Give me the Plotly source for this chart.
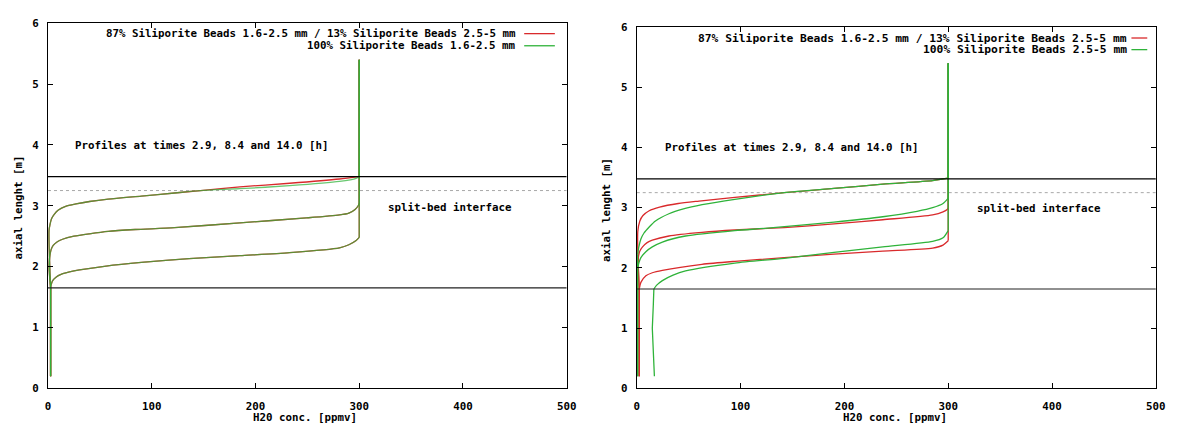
import plotly.graph_objects as go

# ---------------- data ----------------
X_TICKS = [0, 100, 200, 300, 400, 500]
Y_TICKS = [0, 1, 2, 3, 4, 5, 6]

# Left panel: 87/13 mix (red) vs 100% 1.6-2.5 mm (green); profiles at 2.9, 8.4, 14.0 h
L_MIX_T29_C = [2.5, 2.5, 3, 4.5, 8, 12, 25, 56, 90, 136, 185, 233, 281, 290, 297, 300, 300]
L_MIX_T29_Z = [0.20, 1.65, 1.70, 1.77, 1.83, 1.87, 1.93, 2.01, 2.07, 2.13, 2.18, 2.23, 2.31, 2.36, 2.43, 2.48, 5.40]
L_MIX_T84_C = [2.5, 2.5, 1, 1.5, 3, 5, 9, 14, 25, 40, 58, 84, 122, 185, 249, 281, 290, 296, 299, 300, 300]
L_MIX_T84_Z = [0.20, 1.65, 2.00, 2.14, 2.28, 2.35, 2.41, 2.45, 2.50, 2.54, 2.58, 2.61, 2.64, 2.72, 2.80, 2.85, 2.88, 2.94, 3.00, 3.04, 5.40]
L_MIX_T140_C = [2.5, 2.5, 1, 2, 3.5, 6, 10, 17, 27, 40, 58, 90, 122, 147, 185, 233, 281, 300, 300]
L_MIX_T140_Z = [0.20, 1.65, 2.59, 2.70, 2.79, 2.86, 2.93, 2.99, 3.03, 3.07, 3.11, 3.16, 3.21, 3.25, 3.31, 3.37, 3.44, 3.48, 5.40]

L_PURE_T29_C = [2.5, 2.5, 3, 4.5, 8, 12, 25, 56, 90, 136, 185, 233, 281, 290, 297, 300, 300]
L_PURE_T29_Z = [0.20, 1.65, 1.70, 1.77, 1.83, 1.87, 1.93, 2.01, 2.07, 2.13, 2.18, 2.23, 2.31, 2.36, 2.43, 2.48, 5.40]
L_PURE_T84_C = [2.5, 2.5, 1, 1.5, 3, 5, 9, 14, 25, 40, 58, 84, 122, 185, 249, 281, 290, 296, 299, 300, 300]
L_PURE_T84_Z = [0.20, 1.65, 2.00, 2.14, 2.28, 2.35, 2.41, 2.45, 2.50, 2.54, 2.58, 2.61, 2.64, 2.72, 2.80, 2.85, 2.88, 2.94, 3.00, 3.04, 5.40]
L_PURE_T140_C = [2.5, 2.5, 1, 2, 3.5, 6, 10, 17, 27, 40, 58, 90, 122, 147, 185, 233, 281, 297, 300, 300]
L_PURE_T140_Z = [0.20, 1.65, 2.59, 2.70, 2.79, 2.86, 2.93, 2.99, 3.03, 3.07, 3.11, 3.16, 3.21, 3.25, 3.28, 3.33, 3.40, 3.45, 3.48, 5.40]

# Right panel: 87/13 mix (red) vs 100% 2.5-5 mm (green)
R_MIX_T29_C = [2.4, 2.4, 4, 8.8, 15, 24.7, 62.8, 94.5, 142, 190, 237, 285, 295, 300, 300]
R_MIX_T29_Z = [0.20, 1.65, 1.76, 1.87, 1.92, 1.96, 2.06, 2.11, 2.17, 2.23, 2.28, 2.33, 2.38, 2.45, 5.40]
R_MIX_T84_C = [2.4, 2.4, 1.5, 3, 5.6, 10, 15, 31, 62.8, 94.5, 142, 190, 237, 285, 295, 299, 300, 300]
R_MIX_T84_Z = [0.20, 1.65, 2.16, 2.28, 2.35, 2.42, 2.46, 2.53, 2.59, 2.63, 2.67, 2.73, 2.80, 2.88, 2.93, 2.97, 3.00, 5.40]
R_MIX_T140_C = [2.4, 2.4, 1, 3, 6, 12, 22, 40, 60, 94.5, 142, 190, 237, 285, 300, 300]
R_MIX_T140_Z = [0.20, 1.65, 2.60, 2.78, 2.87, 2.95, 3.01, 3.07, 3.11, 3.17, 3.25, 3.32, 3.39, 3.45, 3.49, 5.40]

R_PURE_T29_C = [17, 16.5, 15, 16, 16.5, 19, 24.7, 35, 47, 94.5, 142, 190, 237, 285, 295, 300, 300]
R_PURE_T29_Z = [0.20, 0.50, 1.00, 1.40, 1.65, 1.71, 1.79, 1.88, 1.95, 2.08, 2.16, 2.26, 2.35, 2.44, 2.50, 2.62, 5.40]
R_PURE_T84_C = [0.8, 0.8, 2, 4, 8.8, 15, 24.7, 47, 94.5, 126, 190, 237, 270, 285, 295, 300, 300]
R_PURE_T84_Z = [0.20, 1.97, 2.08, 2.17, 2.27, 2.35, 2.43, 2.53, 2.62, 2.66, 2.76, 2.85, 2.94, 3.00, 3.07, 3.16, 5.40]
R_PURE_T140_C = [0.8, 0.8, 2, 4, 7, 12, 18, 31, 45, 63, 94.5, 142, 190, 237, 285, 300, 300]
R_PURE_T140_Z = [0.20, 2.22, 2.35, 2.48, 2.58, 2.68, 2.78, 2.90, 2.98, 3.05, 3.14, 3.25, 3.32, 3.39, 3.45, 3.49, 5.40]

UPPER_LEVEL = 3.48
LOWER_LEVEL = 1.65
INTERFACE_LEVEL = 3.25

LEFT_LEGEND = ["87% Siliporite Beads 1.6-2.5 mm / 13% Siliporite Beads 2.5-5 mm",
               "100% Siliporite Beads 1.6-2.5 mm"]
RIGHT_LEGEND = ["87% Siliporite Beads 1.6-2.5 mm / 13% Siliporite Beads 2.5-5 mm",
                "100% Siliporite Beads 2.5-5 mm"]
PROFILE_TEXT = "Profiles at times 2.9, 8.4 and 14.0 [h]"
INTERFACE_TEXT = "split-bed interface"
X_TITLE = "H20 conc. [ppmv]"
Y_TITLE = "axial lenght [m]"

# ---------------- styling ----------------
W, H = 1180, 430
RED = "#d92a2c"
GREEN = "#2fb33a"
FONT = "DejaVu Sans Mono"
FS = 10.8


def px(x):
    return x / W


def py(y):
    return 1 - y / H


L_DOM_X = [px(45.5), px(570.0)]
R_DOM_X = [px(640.8), px(1165.7)]
L_DOM_Y = [py(394.3), py(17.7)]
R_DOM_Y = [py(394.3), py(21.7)]

fig = go.Figure()

panels = [
    ("x", "y", 0.72,
     [(L_MIX_T29_C, L_MIX_T29_Z), (L_MIX_T84_C, L_MIX_T84_Z), (L_MIX_T140_C, L_MIX_T140_Z)],
     [(L_PURE_T29_C, L_PURE_T29_Z), (L_PURE_T84_C, L_PURE_T84_Z), (L_PURE_T140_C, L_PURE_T140_Z)]),
    ("x2", "y2", 1.0,
     [(R_MIX_T29_C, R_MIX_T29_Z), (R_MIX_T84_C, R_MIX_T84_Z), (R_MIX_T140_C, R_MIX_T140_Z)],
     [(R_PURE_T29_C, R_PURE_T29_Z), (R_PURE_T84_C, R_PURE_T84_Z), (R_PURE_T140_C, R_PURE_T140_Z)]),
]


def add_profile(c, z, xa, ya, color, opacity, n_low):
    """Straight lower run-in and upper run-out, smooth front in between."""
    common = dict(mode="lines", xaxis=xa, yaxis=ya, opacity=opacity,
                  showlegend=False, hoverinfo="skip")
    # lower vertical part
    fig.add_trace(go.Scatter(x=c[:n_low], y=z[:n_low],
                             line=dict(color=color, width=1.3), **common))
    # smooth front
    fig.add_trace(go.Scatter(x=c[n_low - 1:-1], y=z[n_low - 1:-1],
                             line=dict(color=color, width=1.3, shape="spline", smoothing=0.7),
                             **common))
    # upper vertical part at the feed concentration
    fig.add_trace(go.Scatter(x=c[-2:], y=z[-2:],
                             line=dict(color=color, width=1.3), **common))


for xa, ya, gop, reds, greens in panels:
    for c, z in reds:
        add_profile(c, z, xa, ya, RED, 1.0, 2)
    for c, z in greens:
        n_low = 5 if c is R_PURE_T29_C else 2
        add_profile(c, z, xa, ya, GREEN, gop, n_low)

axis_common = dict(showline=True, linecolor="black", linewidth=1, mirror="allticks",
                   ticks="inside", ticklen=5, tickwidth=1, tickcolor="black",
                   showgrid=False, zeroline=False,
                   tickfont=dict(family=FONT, size=FS, color="black", weight="bold"))

fig.update_layout(
    width=W, height=H, autosize=False,
    margin=dict(l=0, r=0, t=0, b=0),
    paper_bgcolor="white", plot_bgcolor="white",
    xaxis=dict(domain=L_DOM_X, range=[0, 500], tickvals=X_TICKS, anchor="y",
               ticklabelstandoff=8, **axis_common),
    yaxis=dict(domain=L_DOM_Y, range=[0, 6], tickvals=Y_TICKS, anchor="x",
               ticklabelstandoff=6, **axis_common),
    xaxis2=dict(domain=R_DOM_X, range=[0, 500], tickvals=X_TICKS, anchor="y2",
                ticklabelstandoff=8, **axis_common),
    yaxis2=dict(domain=R_DOM_Y, range=[0, 6], tickvals=Y_TICKS, anchor="x2",
                ticklabelstandoff=6, **axis_common),
)

shapes = []
for xr, yr in (("x", "y"), ("x2", "y2")):
    shapes.append(dict(type="line", xref=xr, yref=yr, x0=0, x1=500, y0=UPPER_LEVEL, y1=UPPER_LEVEL,
                       line=dict(color="black", width=1.2), layer="above"))
    shapes.append(dict(type="line", xref=xr, yref=yr, x0=0, x1=500, y0=LOWER_LEVEL, y1=LOWER_LEVEL,
                       line=dict(color="#222222", width=1.2), layer="above"))
    shapes.append(dict(type="line", xref=xr, yref=yr, x0=0, x1=500, y0=INTERFACE_LEVEL, y1=INTERFACE_LEVEL,
                       line=dict(color="#a8a8a8", width=1, dash="3px,3px"), layer="below"))

# legend sample lines (gnuplot style: text then sample)
shapes.append(dict(type="line", xref="paper", yref="paper", x0=px(527), x1=px(558), y0=py(28.5), y1=py(28.5),
                   line=dict(color=RED, width=1.3)))
shapes.append(dict(type="line", xref="paper", yref="paper", x0=px(527), x1=px(558), y0=py(41), y1=py(41),
                   line=dict(color=GREEN, width=1.3)))
shapes.append(dict(type="line", xref="paper", yref="paper", x0=px(1141), x1=px(1157), y0=py(33), y1=py(33),
                   line=dict(color=RED, width=1.3)))
shapes.append(dict(type="line", xref="paper", yref="paper", x0=px(1141), x1=px(1157), y0=py(45), y1=py(45),
                   line=dict(color=GREEN, width=1.3)))
fig.update_layout(shapes=shapes)


def ann(text, x, y, xanchor="left", size=FS, angle=0):
    return dict(text="<b>" + text + "</b>", xref="paper", yref="paper", x=px(x), y=py(y),
                xanchor=xanchor, yanchor="middle", showarrow=False, textangle=angle,
                font=dict(family=FONT, size=size, color="black"))


annotations = [
    ann(LEFT_LEGEND[0], 521, 28.5, "right"),
    ann(LEFT_LEGEND[1], 521, 41, "right"),
    ann(RIGHT_LEGEND[0], 1139, 33, "right", 11.3),
    ann(RIGHT_LEGEND[1], 1139, 45, "right", 11.3),
    ann(PROFILE_TEXT, 70.5, 143.5),
    ann(PROFILE_TEXT, 667, 146),
    ann(INTERFACE_TEXT, 387.5, 207.5),
    ann(INTERFACE_TEXT, 983, 209),
    ann(X_TITLE, 305, 424, "center"),
    ann(X_TITLE, 902, 424, "center"),
    ann(Y_TITLE, 16, 208, "center", angle=-90),
    ann(Y_TITLE, 610, 210, "center", angle=-90),
]
fig.update_layout(annotations=annotations)

fig.write_html("out.html")
